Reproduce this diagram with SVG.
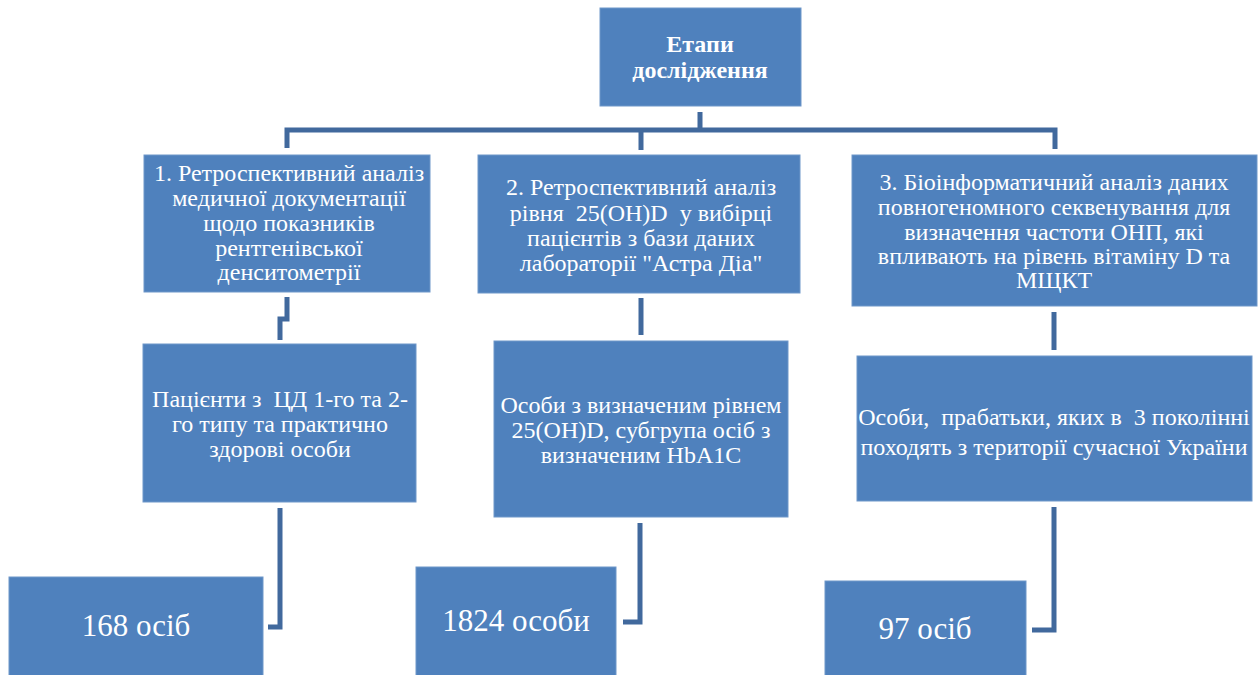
<svg xmlns="http://www.w3.org/2000/svg" width="1260" height="675" viewBox="0 0 1260 675">
<style>
.box{fill:#4f81bd;stroke:#6f97c9;stroke-width:1}
.t{fill:#fff;text-anchor:middle;font-size:24px}
.b{font-weight:bold;font-size:24px}
.big{font-size:31px}
.c{fill:none;stroke:#41699d;stroke-width:5;stroke-linejoin:miter}
</style>
<rect width="1260" height="675" fill="#fff"/>
<g id="connectors">
<path class="c" d="M700,112 V130 M287,148 V130 H1055 V149"/>
<path class="c" d="M641,130 V150"/>
<path class="c" d="M287,297 V319 H280 V340"/>
<path class="c" d="M641,298 V335"/>
<path class="c" d="M1054,312 V350"/>
<path class="c" d="M280,508 V627 H268"/>
<path class="c" d="M640,523 V622 H623"/>
<path class="c" d="M1054,507 V630 H1032"/>
</g>
<g font-family="'Liberation Serif', 'Times New Roman', serif">
<g id="root">
<rect class="box" x="600" y="8" width="201" height="98"/>
<text class="t b" x="700" y="52">Етапи</text>
<text class="t b" x="700" y="78">дослідження</text>
</g>
<g id="stage1">
<rect class="box" x="144" y="155" width="286" height="137"/>
<text class="t" x="289" y="181">1. Ретроспективний аналіз</text>
<text class="t" x="289" y="206">медичної документації</text>
<text class="t" x="289" y="231">щодо показників</text>
<text class="t" x="289" y="256">рентгенівської</text>
<text class="t" x="289" y="280">денситометрії</text>
</g>
<g id="stage2">
<rect class="box" x="478" y="155" width="322" height="138"/>
<text class="t" x="641" y="195">2. Ретроспективний аналіз</text>
<text class="t" x="641" y="221" xml:space="preserve">рівня  25(OH)D  у вибірці</text>
<text class="t" x="641" y="246">пацієнтів з бази даних</text>
<text class="t" x="641" y="271">лабораторії "Астра Діа"</text>
</g>
<g id="stage3">
<rect class="box" x="852" y="155" width="405" height="151"/>
<text class="t" x="1054" y="190">3. Біоінформатичний аналіз даних</text>
<text class="t" x="1054" y="215">повногеномного секвенування для</text>
<text class="t" x="1054" y="240">визначення частоти ОНП, які</text>
<text class="t" x="1054" y="264">впливають на рівень вітаміну D та</text>
<text class="t" x="1054" y="288">МЩКТ</text>
</g>
<g id="group1">
<rect class="box" x="143" y="344" width="273" height="158"/>
<text class="t" x="280" y="407" xml:space="preserve">Пацієнти з  ЦД 1-го та 2-</text>
<text class="t" x="280" y="432">го типу та практично</text>
<text class="t" x="280" y="457">здорові особи</text>
</g>
<g id="group2">
<rect class="box" x="494" y="341" width="294" height="176"/>
<text class="t" x="641" y="413">Особи з визначеним рівнем</text>
<text class="t" x="641" y="438">25(OH)D, субгрупа осіб з</text>
<text class="t" x="641" y="463">визначеним HbA1C</text>
</g>
<g id="group3">
<rect class="box" x="857" y="356" width="395" height="145"/>
<text class="t" x="1054" y="425" xml:space="preserve">Особи,  прабатьки, яких в  3 поколінні</text>
<text class="t" x="1054" y="455">походять з території сучасної України</text>
</g>
<g id="count1">
<rect class="box" x="9" y="577" width="254" height="110"/>
<text class="t big" x="136" y="636">168 осіб</text>
</g>
<g id="count2">
<rect class="box" x="416" y="567" width="200" height="120"/>
<text class="t big" x="516" y="631">1824 особи</text>
</g>
<g id="count3">
<rect class="box" x="825" y="581" width="201" height="106"/>
<text class="t big" x="925" y="639">97 осіб</text>
</g>
</g>
</svg>
